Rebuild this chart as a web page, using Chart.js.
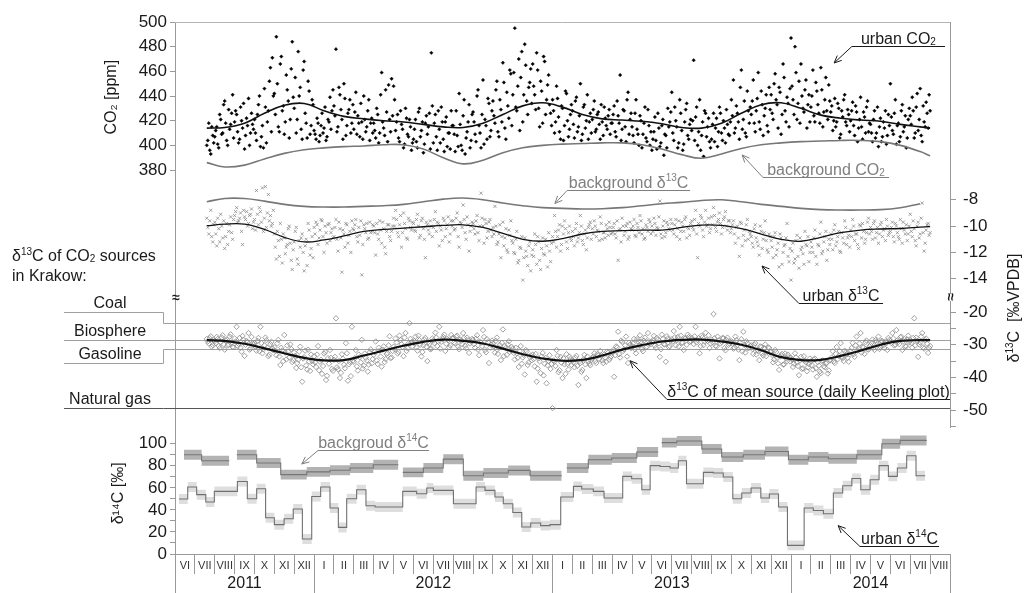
<!DOCTYPE html>
<html>
<head>
<meta charset="utf-8">
<title>CO2, δ13C and δ14C in Krakow 2011-2014</title>
<script src="https://cdn.jsdelivr.net/npm/chart.js@4.4.1/dist/chart.umd.min.js"></script>
<style>
  html, body { margin: 0; padding: 0; background: #fff; }
  canvas { display: block; }
</style>
</head>
<body>
<canvas id="chart" width="1026" height="593"></canvas>
<script>
// x axis = months counted from 1 June 2011
const monthLabels = ['VI','VII','VIII','IX','X','XI','XII',
  'I','II','III','IV','V','VI','VII','VIII','IX','X','XI','XII',
  'I','II','III','IV','V','VI','VII','VIII','IX','X','XI','XII',
  'I','II','III','IV','V','VI','VII','VIII'];
const yearLabels = ['2011', '2012', '2013', '2014'];
const yearEdges = [0, 7, 19, 31, 39];

const co2Ticks = [380, 400, 420, 440, 460, 480, 500];
const d13UpperTicks = [-8, -10, -12, -14];
const d13LowerTicks = [-20, -25, -30, -35, -40, -45, -50, -55];
const d14Ticks = [0, 10, 20, 30, 40, 50, 60, 70, 80, 90, 100];

// daily samples, read every ~1.5 days: the main arrays start mid July 2011
// with a step of 0.1 month, the "Mid" arrays sit half a step later
const sampleStart = 1.6;
const sampleStep = 0.1;

// urban CO2 [ppm]
const urbanCO2 = [
  400, 418, 393, 408,
  407, 415, 398, 421, 410, 436, 404, 429, 417, 441,
  419, 425, 402, 431, 414, 397, 422, 438, 410, 417,
  421, 404, 433, 399, 416, 446, 402, 428, 463, 471,
  442, 488, 415, 466, 428, 409, 457, 436, 421, 484,
  430, 410, 476, 447, 405, 468, 418, 452, 409, 437,
  412, 405, 418, 408, 426, 414, 404, 421, 439, 428,
  432, 478, 415, 441, 421, 450, 408, 426, 437, 418,
  413, 443, 424, 407, 419, 440, 411, 428, 404, 422,
  418, 406, 425, 410, 459, 414, 445, 403, 421, 454,
  448, 412, 425, 403, 417, 398, 430, 409, 421, 396,
  405, 421, 398, 430, 412, 394, 418, 409, 426, 475,
  402, 425, 396, 413, 431, 405, 419, 399, 410, 428,
  416, 395, 408, 442, 400, 424, 393, 411, 433, 404,
  427, 409, 440, 416, 398, 453, 421, 405, 434, 412,
  436, 418, 452, 407, 429, 467, 414, 443, 422, 458,
  441, 495, 428, 470, 455, 419, 482, 436, 447, 462,
  466, 441, 475, 430, 452, 418, 468, 437, 457, 426,
  437, 410, 448, 423, 405, 430, 416, 442, 407, 425,
  428, 406, 439, 415, 450, 409, 433, 420, 405, 426,
  421, 436, 413, 427, 405, 419, 431, 416, 424, 409,
  418, 432, 407, 424, 457, 413, 428, 403, 443, 421,
  415, 402, 437, 409, 424, 398, 418, 406, 429, 400,
  396, 411, 404, 426, 399, 416, 392, 408, 430, 419,
  443, 404, 420, 398, 437, 412, 401, 429, 408, 417,
  412, 469, 423, 400, 437, 408, 391, 426, 415, 403,
  405, 426, 414, 399, 431, 410, 420, 402, 417, 408,
  437, 453, 414, 426, 405, 461, 421, 410, 444, 418,
  425, 453, 411, 438, 419, 444, 408, 430, 416, 447,
  441, 421, 458, 433, 447, 409, 466, 428, 439, 415,
  487, 437, 480, 421, 452, 466, 430, 445, 414, 441,
  431, 461, 419, 444, 426, 463, 415, 437, 428, 449,
  427, 412, 438, 419, 430, 409, 423, 441, 416, 425,
  420, 435, 408, 427, 414, 439, 405, 423, 431, 411,
  417, 403, 428, 410, 399, 422, 407, 414, 401, 425,
  450, 412, 426, 401, 418, 407, 433, 415, 398, 421,
  424, 439, 406, 431, 412, 446, 403, 419, 435, 414,
  428
];
const urbanCO2Mid = [
  404, 396, 415, 402,
  412, 401, 425, 409, 433, 418, 400, 413, 426, 406,
  428, 411, 405, 420, 434, 408, 416, 400, 426, 413,
  410, 425, 440, 407, 398, 431, 419, 452, 411, 440,
  425, 450, 411, 472, 432, 419, 445, 406, 462, 439,
  455, 421, 440, 413, 461, 426, 406, 444, 416, 433,
  409, 422, 403, 416, 410, 431, 407, 419, 413, 445,
  424, 411, 447, 429, 405, 438, 416, 429, 410, 433,
  427, 409, 418, 434, 405, 421, 415, 437, 418, 410,
  412, 430, 402, 441, 419, 408, 427, 449, 411, 424,
  437, 419, 406, 428, 413, 401, 422, 407, 415, 402,
  413, 403, 427, 407, 419, 401, 424, 415, 397, 432,
  418, 407, 428, 402, 419, 395, 423, 410, 397, 416,
  409, 428, 399, 417, 396, 437, 406, 419, 398, 425,
  419, 403, 445, 410, 425, 401, 416, 438, 407, 428,
  424, 445, 411, 437, 419, 451, 405, 432, 461, 416,
  459, 431, 448, 412, 476, 441, 465, 425, 451, 434,
  448, 429, 461, 415, 444, 472, 425, 449, 433, 416,
  428, 419, 438, 411, 432, 404, 444, 420, 413, 433,
  417, 436, 411, 424, 404, 431, 414, 441, 419, 410,
  429, 411, 425, 417, 433, 408, 422, 413, 429, 418,
  425, 411, 436, 418, 404, 429, 415, 437, 409, 426,
  408, 426, 413, 400, 420, 409, 431, 403, 416, 411,
  405, 423, 397, 414, 402, 421, 409, 398, 415, 427,
  410, 431, 415, 402, 426, 396, 419, 434, 405, 421,
  420, 404, 431, 411, 396, 419, 428, 407, 422, 398,
  417, 403, 422, 411, 426, 404, 414, 429, 409, 419,
  424, 410, 432, 419, 447, 413, 436, 407, 428, 431,
  436, 418, 428, 459, 413, 433, 424, 441, 411, 429,
  426, 450, 437, 414, 443, 425, 455, 419, 434, 446,
  448, 425, 459, 434, 418, 440, 427, 453, 433, 419,
  440, 424, 451, 433, 418, 445, 427, 455, 421, 436,
  432, 420, 415, 434, 406, 428, 437, 419, 429, 411,
  428, 416, 432, 403, 421, 415, 427, 410, 436, 418,
  410, 421, 406, 431, 415, 403, 419, 428, 408, 416,
  423, 409, 437, 416, 403, 428, 411, 424, 406, 430,
  417, 428, 410, 442, 421, 408, 432, 415, 426, 441
];

// urban δ13C of CO2 [‰ VPDB]
const urbanD13 = [
  -9.4, -10.6, -8.8, -11.2,
  -9.7, -11.5, -10.2, -9.1, -10.9, -11.7, -9.8, -10.4, -9.3, -11.0,
  -9.2, -8.6, -9.6, -9.0, -11.4, -9.3, -8.9, -9.8, -9.1, -10.2,
  -9.5, -7.3, -9.9, -8.9, -7.1, -9.4, -10.1, -7.6, -9.2, -9.8,
  -10.6, -12.5, -11.1, -9.8, -12.8, -10.9, -11.6, -10.2, -11.3, -13.3,
  -11.2, -10.1, -12.9, -11.6, -10.6, -13.4, -11.0, -9.8, -12.2, -10.8,
  -10.1, -9.7, -11.4, -10.3, -9.6, -12.0, -10.5, -9.9, -11.1, -10.2,
  -10.8, -9.5, -11.9, -10.2, -13.5, -10.6, -9.8, -11.3, -10.4, -9.6,
  -10.3, -9.5, -11.2, -10.7, -13.7, -9.9, -10.5, -11.0, -9.7, -10.4,
  -10.0, -12.2, -10.6, -9.6, -11.3, -10.2, -12.1, -9.9, -10.8, -10.4,
  -9.4, -8.8, -10.5, -9.9, -11.6, -9.0, -10.2, -11.0, -9.6, -10.3,
  -9.8, -10.4, -9.1, -10.9, -9.6, -10.2, -12.4, -9.9, -10.6, -10.0,
  -10.1, -8.9, -9.7, -11.5, -10.3, -9.4, -10.8, -9.9, -11.2, -9.6,
  -9.6, -10.2, -9.0, -11.6, -9.8, -8.4, -10.5, -9.3, -11.9, -10.0,
  -9.8, -10.6, -9.2, -11.1, -7.5, -10.0, -9.5, -10.9, -9.7, -10.3,
  -10.1, -8.5, -11.4, -10.6, -12.4, -9.7, -10.9, -11.8, -10.3, -9.6,
  -11.3, -12.1, -10.4, -12.6, -11.7, -14.1, -10.9, -12.3, -11.5, -13.4,
  -11.8, -10.6, -12.9, -11.2, -13.3, -10.9, -12.2, -11.5, -10.5, -12.7,
  -10.8, -9.2, -11.6, -10.3, -11.9, -10.0, -9.6, -11.2, -10.5, -10.9,
  -10.4, -11.5, -9.8, -10.9, -9.2, -11.1, -10.6, -11.8, -10.1, -9.7,
  -10.2, -9.6, -10.8, -10.4, -9.3, -11.0, -10.5, -9.9, -10.7, -10.1,
  -10.5, -9.8, -10.9, -12.6, -10.2, -9.4, -10.7, -10.0, -11.0, -9.7,
  -10.3, -9.5, -10.8, -10.1, -9.2, -10.6, -11.0, -9.9, -10.4, -9.7,
  -10.0, -9.4, -10.7, -10.2, -8.1, -10.9, -9.6, -10.5, -9.9, -10.3,
  -9.8, -10.6, -9.5, -10.2, -11.0, -9.7, -10.4, -9.3, -10.1, -10.7,
  -9.6, -10.3, -8.8, -12.4, -10.0, -9.4, -10.8, -8.8, -9.9, -10.5,
  -9.3, -8.6, -10.1, -9.7, -9.0, -10.6, -9.5, -8.9, -10.3, -9.6,
  -10.2, -9.6, -11.3, -10.0, -12.3, -9.8, -10.7, -11.1, -9.5, -10.4,
  -10.8, -11.6, -9.9, -11.2, -12.2, -10.4, -11.0, -9.6, -11.8, -10.6,
  -11.1, -12.4, -10.5, -11.8, -13.1, -10.9, -12.0, -11.4, -9.8, -12.7,
  -14.1, -11.3, -12.5, -10.7, -13.2, -11.8, -12.1, -10.4, -11.5, -12.7,
  -11.2, -12.0, -10.3, -12.9, -11.5, -9.7, -11.9, -10.8, -12.6, -11.0,
  -10.6, -11.8, -9.9, -11.2, -10.4, -12.0, -10.9, -9.6, -11.4, -10.7,
  -10.3, -9.5, -11.1, -10.6, -11.7, -10.0, -9.8, -11.3, -10.5, -9.4,
  -10.1, -11.0, -9.6, -10.5, -11.3, -9.9, -10.8, -10.2, -9.5, -10.7,
  -10.4, -9.7, -11.2, -10.0, -10.8, -9.5, -11.3, -10.3, -9.9, -10.6,
  -9.1, -10.8, -10.2, -11.5, -9.7, -10.6, -8.25, -11.9, -10.3, -9.8,
  -10.5
];
const urbanD13Mid = [
  -10.1, -9.6, -10.8, -9.9,
  -10.6, -9.4, -11.2, -10.0, -9.6, -10.8, -11.4, -9.9, -10.5, -9.5,
  -8.9, -9.7, -9.4, -10.4, -8.8, -9.5, -10.0, -9.2, -8.7, -9.7,
  -10.3, -9.1, -8.6, -9.7, -10.4, -7.0, -9.0, -9.6, -10.0, -8.8,
  -11.6, -10.4, -12.3, -11.0, -10.6, -12.1, -11.4, -10.0, -12.6, -11.8,
  -10.4, -12.5, -11.1, -10.9, -12.0, -11.5, -13.0, -10.3, -11.7, -12.4,
  -10.6, -9.9, -10.9, -9.5, -10.8, -10.0, -11.3, -9.8, -10.5, -10.9,
  -10.1, -11.0, -9.7, -10.9, -10.3, -11.6, -9.9, -10.7, -12.0, -10.2,
  -9.9, -10.8, -10.1, -9.6, -11.4, -10.2, -9.8, -10.9, -10.5, -9.9,
  -10.5, -9.8, -11.0, -10.3, -9.7, -11.6, -10.4, -9.9, -11.1, -10.0,
  -10.0, -9.5, -10.8, -9.2, -10.5, -9.8, -10.9, -9.4, -10.1, -9.7,
  -10.3, -9.5, -10.0, -10.7, -9.4, -11.0, -9.7, -10.3, -9.6, -10.8,
  -9.5, -10.4, -9.8, -10.0, -11.1, -9.6, -10.2, -9.3, -10.6, -10.0,
  -10.3, -9.4, -10.8, -9.7, -10.1, -9.5, -11.0, -9.9, -10.4, -9.7,
  -10.2, -9.6, -10.5, -10.0, -9.4, -11.3, -9.8, -10.4, -9.5, -10.8,
  -10.6, -10.0, -11.2, -9.9, -10.8, -11.5, -10.2, -12.0, -10.7, -11.1,
  -12.0, -11.0, -12.8, -11.6, -10.8, -12.4, -11.9, -13.0, -11.2, -12.2,
  -12.3, -11.4, -10.8, -12.6, -11.7, -12.1, -11.0, -13.1, -11.9, -11.3,
  -11.2, -10.4, -10.8, -9.9, -11.4, -10.6, -10.2, -11.7, -10.0, -11.1,
  -10.8, -10.2, -11.2, -10.5, -10.0, -11.4, -10.3, -10.9, -9.9, -11.0,
  -10.6, -10.0, -10.3, -11.1, -9.8, -10.5, -10.9, -10.2, -9.7, -10.6,
  -10.1, -10.6, -9.6, -10.3, -11.2, -10.0, -10.4, -9.8, -10.8, -10.2,
  -10.0, -10.7, -9.8, -10.5, -9.6, -10.2, -10.9, -10.1, -9.5, -10.6,
  -10.4, -9.8, -10.1, -9.3, -10.6, -10.0, -10.8, -9.7, -10.2, -9.5,
  -10.3, -9.9, -10.8, -9.6, -10.4, -10.0, -9.5, -10.9, -10.2, -9.8,
  -10.1, -9.5, -10.6, -9.8, -9.2, -10.3, -9.7, -10.0, -9.4, -10.2,
  -9.9, -9.2, -10.4, -9.5, -9.8, -10.1, -9.3, -10.0, -9.6, -10.5,
  -9.9, -10.6, -10.1, -10.9, -9.7, -11.5, -10.3, -9.9, -11.0, -10.6,
  -11.3, -10.2, -10.9, -11.5, -10.0, -11.7, -10.5, -11.1, -12.0, -10.8,
  -11.6, -10.8, -12.2, -11.3, -10.6, -12.9, -11.5, -10.9, -12.3, -11.7,
  -11.9, -12.8, -11.1, -12.3, -10.9, -11.6, -12.9, -11.4, -10.8, -12.0,
  -11.6, -10.9, -12.3, -11.4, -10.6, -12.1, -11.2, -10.4, -11.8, -11.4,
  -11.0, -10.3, -11.5, -10.8, -11.9, -10.5, -11.3, -10.1, -10.9, -11.6,
  -10.8, -10.0, -10.6, -11.4, -9.9, -10.9, -10.4, -11.0, -9.7, -10.6,
  -10.4, -9.8, -10.9, -10.1, -10.6, -9.7, -10.3, -11.1, -10.0, -10.5,
  -10.1, -10.8, -9.8, -10.5, -11.0, -10.2, -9.7, -10.6, -11.1, -10.0,
  -10.4, -9.6, -11.1, -10.0, -10.9, -9.4, -10.5, -11.3, -9.9, -10.7
];

// δ13C of mean source, daily Keeling plot [‰ VPDB]
const sourceD13 = [
  -28.2, -29.6, -27.4, -30.1,
  -28.9, -27.6, -30.4, -29.2, -27.1, -31.5, -28.4, -29.9, -26.8, -30.7,
  -28.1, -24.5, -29.7, -30.9, -27.3, -33.4, -28.8, -26.4, -31.2, -29.5,
  -29.4, -31.8, -27.9, -24.5, -32.6, -30.2, -28.6, -33.5, -29.8, -31.1,
  -30.8, -33.2, -28.5, -36.2, -31.7, -27.0, -34.5, -32.1, -29.9, -35.3,
  -32.4, -37.1, -34.6, -30.6, -41.3, -33.8, -36.3, -31.5, -38.0, -34.9,
  -33.5, -36.8, -30.4, -35.2, -38.9, -32.7, -40.8, -34.1, -31.6, -37.4,
  -34.6, -21.9, -37.5, -40.2, -32.9, -36.1, -29.5, -41.0, -35.3, -24.5,
  -35.2, -31.6, -37.9, -33.8, -28.5, -36.4, -34.0, -38.2, -32.3, -35.7,
  -33.1, -29.0, -35.9, -31.8, -36.7, -30.5, -34.4, -32.6, -27.4, -33.9,
  -30.6, -28.1, -32.7, -27.2, -29.8, -33.5, -26.4, -31.1, -23.4, -29.2,
  -29.4, -27.5, -31.8, -28.6, -33.6, -30.2, -27.9, -35.0, -29.7, -31.2,
  -28.7, -26.3, -30.4, -24.5, -29.1, -27.6, -31.9, -28.2, -30.8, -27.0,
  -28.0, -29.6, -27.2, -31.4, -28.8, -26.4, -30.3, -27.8, -32.5, -29.0,
  -28.5, -30.9, -27.1, -33.2, -29.4, -25.5, -31.6, -28.3, -35.6, -30.0,
  -29.6, -32.4, -27.8, -31.0, -34.7, -25.3, -30.4, -33.1, -28.9, -31.7,
  -31.2, -34.5, -32.6, -36.8, -30.4, -33.9, -39.1, -32.0, -35.4, -33.3,
  -33.0, -36.6, -41.3, -34.2, -38.7, -32.5, -35.8, -41.8, -34.9, -37.4,
  -49.4, -35.1, -31.6, -38.4, -33.7, -40.2, -36.0, -32.9, -37.6, -34.3,
  -34.8, -36.9, -33.4, -42.3, -35.6, -37.7, -33.1, -40.2, -35.0, -36.3,
  -34.1, -32.6, -35.6, -33.3, -31.9, -34.8, -33.0, -35.2, -32.4, -34.0,
  -32.3, -39.8, -30.5, -26.0, -33.9, -29.1, -31.4, -27.5, -35.6, -30.0,
  -30.4, -28.2, -32.6, -29.0, -27.1, -31.3, -28.7, -30.8, -26.4, -29.5,
  -29.0, -27.3, -31.0, -28.4, -33.7, -26.9, -29.8, -35.2, -28.1, -30.4,
  -28.3, -25.8, -30.2, -27.6, -24.5, -29.4, -31.6, -28.0, -26.9, -29.1,
  -27.9, -29.8, -24.5, -28.6, -32.6, -27.2, -30.1, -26.3, -28.9, -31.0,
  -28.4, -20.6, -30.3, -27.5, -34.2, -29.1, -28.0, -31.7, -27.8, -29.6,
  -28.9, -31.2, -27.5, -30.0, -34.7, -28.3, -26.0, -32.4, -29.6, -30.8,
  -30.2, -32.8, -29.5, -31.6, -34.7, -30.7, -33.3, -29.9, -32.1, -31.0,
  -32.1, -35.4, -31.6, -34.0, -37.7, -33.2, -36.1, -32.7, -35.0, -33.8,
  -34.0, -36.8, -32.6, -35.5, -39.3, -33.7, -37.2, -34.9, -38.1, -35.9,
  -35.1, -37.6, -34.2, -39.8, -36.4, -38.7, -34.8, -36.9, -35.5, -37.9,
  -34.6, -32.0, -35.6, -30.7, -33.4, -29.5, -34.1, -31.8, -33.0, -35.2,
  -32.0, -29.4, -33.7, -27.5, -31.3, -26.4, -30.6, -32.8, -28.7, -31.5,
  -30.1, -28.4, -31.6, -29.2, -27.5, -30.6, -28.9, -31.0, -29.5, -27.9,
  -28.8, -26.4, -30.2, -25.5, -29.1, -27.7, -31.6, -28.3, -30.5, -27.2,
  -28.6, -30.9, -21.9, -27.8, -33.7, -29.3, -26.4, -31.2, -28.1, -32.5,
  -30.4
];
const sourceD13Mid = [
  -29.0, -28.0, -30.6, -28.6,
  -29.5, -28.2, -31.0, -27.8, -29.9, -28.7, -30.2, -27.5, -29.3, -30.8,
  -29.0, -30.4, -27.9, -32.1, -28.5, -30.0, -29.2, -31.5, -27.6, -29.9,
  -30.6, -28.8, -32.0, -29.5, -31.4, -27.8, -30.9, -33.0, -29.1, -31.7,
  -31.9, -29.6, -33.6, -30.9, -35.0, -32.4, -30.2, -33.9, -31.3, -34.7,
  -33.4, -35.6, -32.1, -36.9, -34.2, -31.8, -37.6, -35.1, -33.0, -36.0,
  -35.4, -33.0, -37.8, -34.6, -36.5, -32.2, -39.5, -35.8, -34.0, -38.0,
  -33.7, -36.9, -35.0, -38.6, -34.3, -37.2, -32.6, -36.0, -39.6, -34.9,
  -34.1, -36.6, -33.0, -35.4, -37.3, -32.7, -34.8, -36.1, -31.4, -34.4,
  -32.2, -34.8, -30.9, -33.6, -31.5, -35.3, -32.8, -30.2, -34.1, -31.9,
  -31.4, -29.3, -32.2, -28.6, -30.7, -27.8, -31.9, -29.6, -28.2, -30.5,
  -28.9, -30.8, -27.2, -29.9, -32.2, -28.4, -30.6, -29.2, -31.4, -28.1,
  -29.5, -27.8, -29.0, -31.2, -28.3, -26.9, -29.7, -28.6, -30.2, -28.0,
  -29.3, -27.5, -30.6, -28.4, -29.8, -27.9, -31.1, -28.6, -29.6, -28.2,
  -29.8, -28.1, -31.5, -29.0, -30.4, -27.6, -32.3, -29.2, -30.9, -28.7,
  -30.5, -28.8, -32.8, -30.1, -29.4, -33.5, -31.0, -29.9, -32.2, -30.7,
  -32.5, -30.9, -34.0, -32.0, -35.8, -33.1, -31.6, -36.2, -33.7, -34.8,
  -34.4, -32.8, -37.3, -35.1, -33.6, -39.4, -34.0, -36.3, -33.2, -35.9,
  -34.8, -36.5, -33.4, -37.8, -35.5, -34.1, -38.9, -35.9, -33.6, -36.2,
  -35.4, -34.0, -36.5, -35.1, -38.3, -34.5, -36.0, -33.6, -35.8, -34.7,
  -33.6, -35.0, -32.9, -34.4, -33.2, -35.6, -33.9, -32.1, -34.6, -33.5,
  -31.6, -33.2, -30.8, -32.9, -28.7, -31.9, -30.2, -33.6, -29.4, -31.0,
  -29.6, -31.4, -28.3, -30.2, -29.0, -32.0, -27.8, -30.6, -28.9, -29.8,
  -28.6, -30.3, -27.9, -29.5, -31.4, -28.2, -29.9, -27.4, -30.7, -28.8,
  -29.0, -27.7, -28.6, -30.5, -27.2, -29.4, -28.1, -30.0, -27.6, -28.9,
  -28.4, -27.4, -29.3, -28.0, -30.4, -27.7, -29.0, -28.5, -27.1, -29.6,
  -29.2, -28.0, -30.5, -28.7, -29.6, -27.9, -31.0, -28.5, -30.0, -29.1,
  -29.7, -30.9, -28.6, -31.5, -29.3, -32.0, -30.1, -28.9, -31.1, -30.4,
  -31.3, -30.0, -33.0, -31.8, -30.5, -32.6, -31.0, -33.5, -30.8, -32.2,
  -33.1, -34.5, -32.2, -35.7, -33.6, -32.8, -36.0, -34.2, -33.0, -35.1,
  -34.5, -35.8, -33.9, -36.5, -34.9, -37.4, -33.5, -35.4, -36.9, -34.2,
  -36.2, -34.5, -37.2, -35.3, -38.2, -34.9, -36.6, -35.8, -38.8, -34.8,
  -33.9, -35.1, -32.8, -34.4, -31.9, -33.6, -35.0, -32.4, -34.0, -32.9,
  -31.0, -32.9, -30.2, -31.8, -29.6, -32.4, -30.8, -29.2, -31.4, -30.5,
  -29.4, -30.9, -28.6, -29.9, -31.3, -28.8, -30.2, -29.0, -31.6, -28.5,
  -29.5, -28.1, -30.0, -28.7, -29.8, -27.5, -28.9, -30.4, -28.4, -29.2,
  -29.4, -27.9, -30.2, -28.8, -29.9, -27.5, -30.8, -28.6, -29.7, -31.0
];

// smooth curves, read at mid-month
const fitX = [1.6, 2.5, 3.5, 4.5, 5.5, 6.5, 7.5, 8.5, 9.5, 10.5, 11.5, 12.5, 13.5,
  14.5, 15.5, 16.5, 17.5, 18.5, 19.5, 20.5, 21.5, 22.5, 23.5, 24.5, 25.5, 26.5,
  27.5, 28.5, 29.5, 30.5, 31.5, 32.5, 33.5, 34.5, 35.5, 36.5, 37.5, 38.0];
const urbanCO2Fit = [414, 414.5, 418, 426, 432.5, 434, 428, 423.5, 421.5, 420, 419, 417, 415,
  414.5, 418, 425, 432, 434.5, 431, 425, 421.5, 420.5, 419.5, 417.5, 414.5, 414,
  418, 426, 433, 434.5, 430, 424.5, 422, 420.5, 419.5, 417, 415, 414];
const backgroundCO2 = [386, 382.5, 384, 389, 393.5, 396.5, 398, 399, 399.5, 400.5, 400.5, 397, 390,
  385, 388, 394, 398, 400, 401, 401.5, 402, 402, 400.5, 397, 392.5, 389.5,
  393, 397.5, 400.5, 402, 403, 403.5, 404, 404, 403, 400, 395, 391.5];
const backgroundD13 = [-8.15, -7.9, -7.9, -8.1, -8.35, -8.5, -8.55, -8.55, -8.5, -8.45, -8.35, -8.15, -7.95,
  -7.87, -8.0, -8.25, -8.45, -8.6, -8.65, -8.7, -8.68, -8.6, -8.45, -8.3, -8.2, -8.05,
  -8.0, -8.15, -8.35, -8.5, -8.65, -8.75, -8.78, -8.78, -8.75, -8.6, -8.3, null];
const urbanD13Fit = [-9.97, -9.85, -9.85, -10.25, -10.85, -11.2, -11.05, -10.75, -10.4, -10.25, -10.15, -10.05, -9.95,
  -9.9, -10.1, -10.55, -11.0, -11.15, -10.95, -10.6, -10.4, -10.35, -10.3, -10.3, -10.1, -9.92,
  -9.95, -10.2, -10.6, -11.0, -11.15, -10.85, -10.5, -10.3, -10.22, -10.18, -10.08, -10.03];
const sourceD13Fit = [-28.6, -28.8, -29.7, -31.1, -32.6, -34.0, -34.8, -34.7, -33.3, -31.8, -30.3, -29.1, -28.4,
  -28.8, -29.6, -31.2, -32.9, -34.2, -34.9, -34.6, -33.3, -31.5, -30.1, -29.0, -28.5, -28.4,
  -29.0, -30.0, -31.7, -33.8, -34.7, -34.6, -33.4, -31.8, -30.0, -28.8, -28.6, -28.6];

// δ13C of CO2 sources in Krakow [‰ VPDB]
const sourceNames = ['Coal', 'Biosphere', 'Gasoline', 'Natural gas'];
const sourceValues = [-23.2, -28.5, -31.4, -49.5];

// background δ14C, sampling periods (month units) and values [‰]
const bgStart = [0.45, 1.34, 3.11, 4.11, 5.32, 6.63, 7.80, 8.81, 9.98, 11.46, 12.50, 13.50, 14.51, 15.52, 16.77, 17.87,
  19.71, 20.80, 21.98, 23.24, 24.49, 25.25, 26.51, 27.51, 28.60, 29.69, 30.87, 31.87, 32.88, 34.31, 35.57, 36.49];
const bgEnd = [1.34, 2.73, 4.11, 5.32, 6.63, 7.80, 8.81, 9.98, 11.24, 12.50, 13.50, 14.51, 15.52, 16.77, 17.87, 19.46,
  20.80, 21.98, 23.24, 24.32, 25.25, 26.51, 27.51, 28.60, 29.69, 30.87, 31.87, 32.88, 34.31, 35.57, 36.49, 37.83];
const bgD14 = [90, 84.6, 90, 82.5, 72, 74.5, 76, 78, 81, 74, 78, 86, 71, 73.4, 75.8, 71,
  78, 85.5, 87, 92.5, 101, 102.5, 95.2, 88, 90, 93, 85.5, 88, 86.4, 90, 100, 103];

// urban δ14C, consecutive two-week samples
const urbanEdges = [0.20, 0.64, 1.09, 1.55, 1.98, 3.14, 3.64, 4.11, 4.56, 5.00, 5.49, 5.95, 6.41, 6.88, 7.33, 7.80,
  8.22, 8.64, 9.14, 9.61, 10.07, 11.46, 12.16, 12.67, 13.00, 14.01, 15.15, 15.60, 16.10, 16.52, 17.00, 17.45,
  17.90, 18.40, 18.87, 19.41, 20.05, 20.47, 21.05, 21.59, 22.53, 22.98, 23.49, 23.91, 24.41, 24.91, 25.33, 25.74,
  26.59, 27.09, 27.59, 28.07, 28.52, 28.99, 29.48, 29.91, 30.37, 30.82, 31.66, 32.12, 32.63, 33.13, 33.60, 34.06,
  34.51, 34.98, 35.43, 35.90, 36.35, 36.82, 37.29, 37.75];
const urbanD14 = [49.9, 60.7, 53.8, 47.1, 56.8, 65.8, 50.1, 59.2, 32.9, 26.6, 32, 40.8, 13.6, 52.2, 60.7,
  41.7, 24.1, 50.1, 58.3, 43.8, 42.6, 56.8, 54.7, 59.8, 57.7, 45.6, 60.7, 57.7, 51.7, 45.6, 37.7,
  24.5, 28.1, 25.7, 26.6, 51.7, 61.3, 58.9, 56.8, 50.8, 70.4, 68.3, 58.3, 80.1, 79.4, 78, 84.5,
  63.7, 74, 73.4, 69.8, 50.1, 55.3, 59.8, 50.8, 54.4, 42.6, 7.8, 41.7, 39.5, 36.5, 55.3, 61.9,
  68.5, 58.3, 67.4, 80.1, 70.4, 78, 89.1, 71];
const d14Err = 4.5;

// ---------------------------------------------------------------

const FONT = "'Liberation Sans', Arial, Helvetica, sans-serif";
Chart.defaults.font.family = FONT;
Chart.defaults.color = '#1a1a1a';

const axisGrey = '#9a9a9a';
const darkText = '#1a1a1a';
const greyText = '#7f7f7f';

const samplePoints = (vals, offset) => vals.map((v, i) => ({ x: sampleStart + offset + i * sampleStep, y: v }));
const bothSamples = (main, mid) => samplePoints(main, 0).concat(samplePoints(mid, sampleStep / 2));
const fitPoints = vals => vals.map((v, i) => ({ x: fitX[i], y: v }));

function stepPoints(starts, ends, vals, shift) {
  const pts = [];
  vals.forEach((v, i) => {
    pts.push({ x: starts[i], y: v + shift }, { x: ends[i], y: v + shift });
    if (i < vals.length - 1 && starts[i + 1] > ends[i] + 1e-6) pts.push({ x: ends[i], y: null });
  });
  return pts;
}
const urbanStart = urbanEdges.slice(0, -1);
const urbanEnd = urbanEdges.slice(1);

// annotation labels (data coordinates of arrow tip and elbow, end of underline)
const notes = [
  { axis: 'yCO2', tip: [33.17, 466.8], elbow: [34.06, 480.5], end: 38.75, color: darkText,
    parts: [['urban CO'], ['2', 'sub']] },
  { axis: 'yCO2', tip: [28.54, 392.2], elbow: [29.59, 374.4], end: 35.93, color: greyText,
    parts: [['background CO'], ['2', 'sub']] },
  { axis: 'rD13a', tip: [19.12, -8.28], elbow: [19.73, -7.26], end: 25.92, color: greyText,
    parts: [['background δ'], ['13', 'sup'], ['C']] },
  { axis: 'rD13a', tip: [29.54, -13.03], elbow: [31.40, -15.81], end: 35.63, color: darkText,
    parts: [['urban δ'], ['13', 'sup'], ['C']] },
  { axis: 'rD13b', tip: [22.9, -34.88], elbow: [24.76, -46.6], end: 39, color: darkText,
    parts: [['δ'], ['13', 'sup'], ['C of mean source (daily Keeling plot)']] },
  { axis: 'yD14', tip: [6.38, 81.6], elbow: [7.2, 94.3], end: 12.78, color: greyText,
    parts: [['backgroud δ'], ['14', 'sup'], ['C']] },
  { axis: 'yD14', tip: [33.37, 25.7], elbow: [34.47, 7.5], end: 38.45, color: darkText,
    parts: [['urban δ'], ['14', 'sup'], ['C']] }
];

function partFont(p, size) {
  return (p[1] ? Math.round(size * 0.62) : size) + 'px ' + FONT;
}
function richWidth(ctx, parts, size) {
  let w = 0;
  parts.forEach(p => { ctx.font = partFont(p, size); w += ctx.measureText(p[0]).width; });
  return w;
}
function drawRich(ctx, parts, x, y, size) {
  ctx.textBaseline = 'alphabetic';
  ctx.textAlign = 'left';
  parts.forEach(p => {
    ctx.font = partFont(p, size);
    const dy = p[1] === 'sup' ? -size * 0.38 : (p[1] === 'sub' ? 1 : 0);
    ctx.fillText(p[0], x, y + dy);
    x += ctx.measureText(p[0]).width;
  });
}

const decorations = {
  id: 'decorations',
  beforeDatasetsDraw(chart) {
    const { ctx, chartArea, scales } = chart;
    const ys = scales.rD13b;
    ctx.save();
    ctx.lineWidth = 1;
    // frame line on top of the plot
    ctx.strokeStyle = '#b4b4b4';
    ctx.beginPath();
    ctx.moveTo(chartArea.left, chartArea.top + 0.5);
    ctx.lineTo(chartArea.right, chartArea.top + 0.5);
    ctx.stroke();
    // source lines with their labels on the left
    const labelShift = [-11, 0, 14, 0];
    sourceValues.forEach((v, i) => {
      const yv = Math.round(ys.getPixelForValue(v)) + 0.5;
      const yl = yv + labelShift[i];
      ctx.strokeStyle = i === 3 ? '#555' : '#a0a0a0';
      ctx.beginPath();
      ctx.moveTo(64, yl);
      ctx.lineTo(163.5, yl);
      ctx.lineTo(163.5, yv);
      ctx.lineTo(chartArea.right, yv);
      ctx.stroke();
      ctx.fillStyle = darkText;
      ctx.font = '16px ' + FONT;
      ctx.textAlign = 'center';
      ctx.textBaseline = 'alphabetic';
      ctx.fillText(sourceNames[i], 110, yl - 4.5);
    });
    ctx.restore();
  },
  afterDraw(chart) {
    const { ctx, scales } = chart;
    const xs = scales.x;
    ctx.save();
    ctx.lineWidth = 1;
    notes.forEach(n => {
      const ys = scales[n.axis];
      const tx = xs.getPixelForValue(n.tip[0]), ty = ys.getPixelForValue(n.tip[1]);
      const ex = xs.getPixelForValue(n.elbow[0]), ey = Math.round(ys.getPixelForValue(n.elbow[1])) + 0.5;
      const ux = xs.getPixelForValue(n.end);
      ctx.strokeStyle = n.color;
      ctx.fillStyle = n.color;
      ctx.beginPath();
      ctx.moveTo(ux, ey);
      ctx.lineTo(ex, ey);
      ctx.lineTo(tx, ty);
      ctx.stroke();
      const a = Math.atan2(ty - ey, tx - ex);
      ctx.beginPath();
      ctx.moveTo(tx - 8 * Math.cos(a - 0.42), ty - 8 * Math.sin(a - 0.42));
      ctx.lineTo(tx, ty);
      ctx.lineTo(tx - 8 * Math.cos(a + 0.42), ty - 8 * Math.sin(a + 0.42));
      ctx.stroke();
      const w = richWidth(ctx, n.parts, 16);
      drawRich(ctx, n.parts, (ex + ux) / 2 - w / 2, ey - 3, 16);
    });

    // heading of the source list
    ctx.fillStyle = darkText;
    drawRich(ctx, [['δ'], ['13', 'sup'], ['C of CO'], ['2', 'sub'], [' sources']], 12, 261, 16);
    drawRich(ctx, [['in Krakow:']], 12, 281, 16);

    // axis break marks
    ctx.font = 'bold 14px ' + FONT;
    ctx.textAlign = 'center';
    ctx.textBaseline = 'middle';
    ctx.fillText('≈', chart.chartArea.left + 1, 298);
    ctx.save();
    ctx.translate(chart.chartArea.right, 297);
    ctx.rotate(Math.PI / 2);
    ctx.fillText('≈', 0, 0);
    ctx.restore();

    // right axis title, reading upwards
    const rParts = [['δ'], ['13', 'sup'], ['C  [‰VPDB]']];
    ctx.save();
    ctx.translate(chart.width - 13, 308);
    ctx.rotate(-Math.PI / 2);
    const rw = richWidth(ctx, rParts, 16);
    drawRich(ctx, rParts, -rw / 2, 6, 16);
    ctx.restore();
    ctx.restore();
  }
};

const hidden = 'rgba(0,0,0,0)';
const tickFont = { size: 17 };

new Chart(document.getElementById('chart'), {
  type: 'line',
  data: {
    datasets: [
      { data: fitPoints(urbanCO2Fit), yAxisID: 'yCO2', borderColor: '#111', borderWidth: 1.6, pointRadius: 0, tension: 0.4 },
      { data: fitPoints(backgroundCO2), yAxisID: 'yCO2', borderColor: '#777', borderWidth: 1.6, pointRadius: 0, tension: 0.4 },
      { data: fitPoints(backgroundD13), yAxisID: 'rD13a', borderColor: '#777', borderWidth: 1.6, pointRadius: 0, tension: 0.4 },
      { data: fitPoints(urbanD13Fit), yAxisID: 'rD13a', borderColor: '#111', borderWidth: 1.3, pointRadius: 0, tension: 0.4 },
      { data: fitPoints(sourceD13Fit), yAxisID: 'rD13b', borderColor: '#111', borderWidth: 2.2, pointRadius: 0, tension: 0.4 },
      { type: 'scatter', data: bothSamples(urbanCO2, urbanCO2Mid), yAxisID: 'yCO2', pointStyle: 'rectRot', pointRadius: 1.7,
        backgroundColor: '#000', borderColor: '#000', borderWidth: 0.5 },
      { type: 'scatter', data: bothSamples(urbanD13, urbanD13Mid), yAxisID: 'rD13a', pointStyle: 'crossRot', pointRadius: 2.2,
        backgroundColor: hidden, borderColor: '#8a8a8a', borderWidth: 0.8 },
      { type: 'scatter', data: bothSamples(sourceD13, sourceD13Mid), yAxisID: 'rD13b', pointStyle: 'rectRot', pointRadius: 2.7,
        backgroundColor: hidden, borderColor: '#8a8a8a', borderWidth: 0.8 },
      { data: stepPoints(urbanStart, urbanEnd, urbanD14, 0), yAxisID: 'yD14', borderColor: '#707070', borderWidth: 1.1, pointRadius: 0 },
      { data: stepPoints(bgStart, bgEnd, bgD14, 0), yAxisID: 'yD14', borderColor: '#767676', borderWidth: 1.1, pointRadius: 0 },
      { data: stepPoints(urbanStart, urbanEnd, urbanD14, d14Err), yAxisID: 'yD14', borderColor: hidden, pointRadius: 0,
        fill: '+1', backgroundColor: '#dedede' },
      { data: stepPoints(urbanStart, urbanEnd, urbanD14, -d14Err), yAxisID: 'yD14', borderColor: hidden, pointRadius: 0 },
      { data: stepPoints(bgStart, bgEnd, bgD14, d14Err), yAxisID: 'yD14', borderColor: hidden, pointRadius: 0,
        fill: '+1', backgroundColor: '#b3b3b3' },
      { data: stepPoints(bgStart, bgEnd, bgD14, -d14Err), yAxisID: 'yD14', borderColor: hidden, pointRadius: 0 }
    ].map(d => Object.assign({ xAxisID: 'x' }, d))
  },
  options: {
    responsive: false,
    animation: false,
    events: [],
    devicePixelRatio: 1,
    layout: { padding: { top: 22, left: 0, right: 0, bottom: 0 } },
    plugins: { legend: { display: false }, tooltip: { enabled: false } },
    scales: {
      x: {
        type: 'linear', position: 'bottom', weight: 1, min: 0, max: 39,
        afterBuildTicks: s => { s.ticks = monthLabels.map((m, i) => ({ value: i + 0.5 })); },
        afterFit: s => { s.height = 20; },
        ticks: { autoSkip: false, maxRotation: 0, padding: -15, font: { size: 11 }, color: '#333',
          callback: (v, i) => monthLabels[i] },
        grid: { offset: true, drawOnChartArea: false, tickLength: 20, color: axisGrey },
        border: { color: axisGrey }
      },
      xYear: {
        type: 'linear', position: 'bottom', weight: 2, min: 0, max: 39,
        afterBuildTicks: s => {
          const t = [];
          yearEdges.forEach((e, i) => {
            t.push({ value: e });
            if (i < yearLabels.length) t.push({ value: (e + yearEdges[i + 1]) / 2 });
          });
          s.ticks = t;
        },
        afterFit: s => { s.height = 19; },
        ticks: { autoSkip: false, maxRotation: 0, padding: -19, font: { size: 16 }, color: darkText,
          callback: (v, i) => (i % 2 === 1 ? yearLabels[(i - 1) / 2] : '') },
        grid: { drawOnChartArea: false, tickLength: 19,
          color: c => (c.tick && yearEdges.includes(c.tick.value) ? axisGrey : hidden) },
        border: { display: false }
      },
      yCO2: {
        type: 'linear', position: 'left', stack: 'left', stackWeight: 150.5, weight: 3, min: 378, max: 500,
        afterBuildTicks: s => { s.ticks = co2Ticks.map(v => ({ value: v })); },
        afterFit: s => { s.width = 175; },
        ticks: { autoSkip: false, font: tickFont, padding: 3, color: darkText },
        grid: { drawOnChartArea: false, tickLength: 5, color: axisGrey },
        border: { color: axisGrey },
        title: { display: true, text: 'CO₂ [ppm]', font: { size: 16 }, color: darkText, padding: { top: 102, bottom: 0 } }
      },
      yGap: {
        type: 'linear', position: 'left', stack: 'left', stackWeight: 260.2, weight: 2, min: 0, max: 1,
        afterFit: s => { s.width = 175; },
        ticks: { display: false }, grid: { display: false }, border: { color: axisGrey }
      },
      yD14: {
        type: 'linear', position: 'left', stack: 'left', stackWeight: 121.3, weight: 1, min: 0, max: 110,
        afterBuildTicks: s => { s.ticks = d14Ticks.map(v => ({ value: v })); },
        afterFit: s => { s.width = 175; },
        ticks: { autoSkip: false, font: tickFont, padding: 3, color: darkText,
          callback: v => (v % 20 === 0 ? String(v) : '') },
        grid: { drawOnChartArea: false, tickLength: 5, color: axisGrey },
        border: { color: axisGrey },
        title: { display: true, text: 'δ¹⁴C [‰]', font: { size: 16 }, color: darkText, padding: { top: 109, bottom: 0 } }
      },
      rD13a: {
        type: 'linear', position: 'right', stack: 'right', stackWeight: 271, weight: 1, min: -15.08, max: 5.5,
        afterBuildTicks: s => { s.ticks = d13UpperTicks.map(v => ({ value: v })); },
        afterFit: s => { s.width = 76; },
        ticks: { autoSkip: false, font: tickFont, padding: 7, color: darkText, callback: v => String(v) },
        grid: { drawOnChartArea: false, tickLength: 6, color: axisGrey },
        border: { color: axisGrey }
      },
      rGap: {
        type: 'linear', position: 'right', stack: 'right', stackWeight: 8, weight: 2, min: 0, max: 1,
        afterFit: s => { s.width = 76; },
        ticks: { display: false }, grid: { display: false }, border: { display: false }
      },
      rD13b: {
        type: 'linear', position: 'right', stack: 'right', stackWeight: 126.4, weight: 3, min: -55.3, max: -16.6,
        afterBuildTicks: s => { s.ticks = d13LowerTicks.map(v => ({ value: v })); },
        afterFit: s => { s.width = 76; },
        ticks: { autoSkip: false, font: tickFont, padding: 7, color: darkText,
          callback: v => (v % 10 === 0 ? String(v) : '') },
        grid: { drawOnChartArea: false, tickLength: 6, color: axisGrey },
        border: { color: axisGrey }
      },
      rEmpty: {
        type: 'linear', position: 'right', stack: 'right', stackWeight: 126.6, weight: 4, min: 0, max: 1,
        afterFit: s => { s.width = 76; },
        ticks: { display: false }, grid: { display: false }, border: { display: false }
      }
    }
  },
  plugins: [decorations]
});
</script>
</body>
</html>
